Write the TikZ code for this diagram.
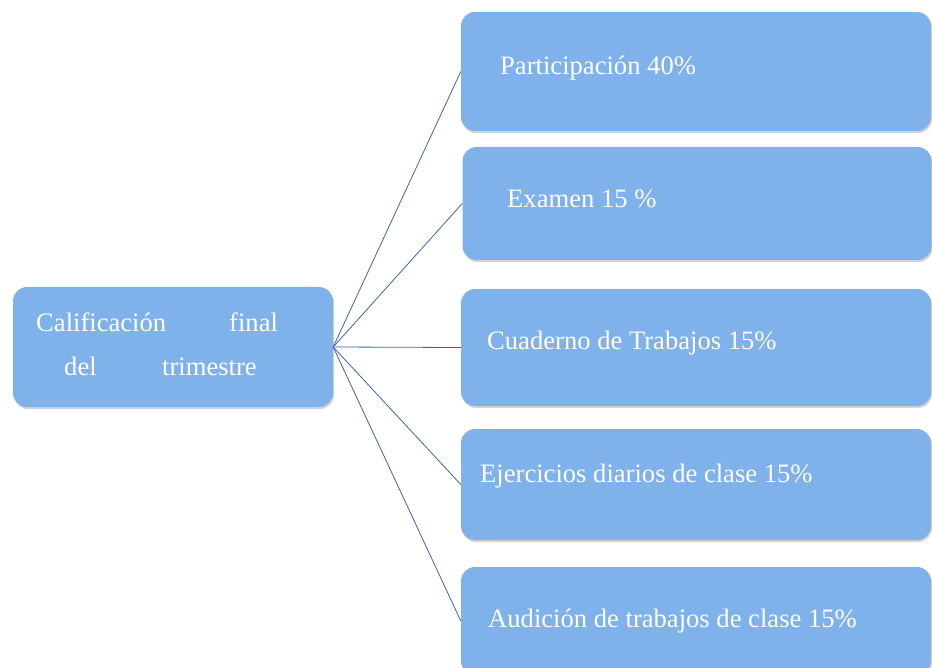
\documentclass[tikz,border=0pt]{standalone}
\usepackage{fontspec}
\setmainfont{Liberation Serif}
\usetikzlibrary{shadows}
\definecolor{boxblue}{HTML}{7FB1EA}
\definecolor{linkblue}{HTML}{3A64A8}
\tikzset{
	cajita/.style={fill=boxblue, draw=none, rounded corners=14pt, inner sep=0pt,
		drop shadow={shadow xshift=1pt, shadow yshift=-2pt, opacity=.35, fill=gray}},
	texto/.style={anchor=base west, text=white, inner sep=0pt, font=\fontsize{26.6}{32}\selectfont},
	enlace/.style={draw=linkblue, line width=.8pt}
}
\begin{document}
\begin{tikzpicture}[x=1pt, y=-1pt]
	\useasboundingbox (0,0) rectangle (932,668) ;
		\node (cal)[cajita, minimum width=320pt, minimum height=120pt] at (173,347) {} ; 
		\node (p1)[cajita, minimum width=470pt, minimum height=119pt] at (696,71.5) {} ; 
		\node (p2)[cajita, minimum width=469pt, minimum height=113pt] at (697,203.5) {} ; 
		\node (p3)[cajita, minimum width=470pt, minimum height=117pt] at (696,347.5) {} ; 
		\node (p4)[cajita, minimum width=470pt, minimum height=111pt] at (696,484.5) {} ; 
		\node (p5)[cajita, minimum width=470pt, minimum height=108pt] at (696,621) {} ; 
		\node (cal1)[texto] at (36,332) {Calificación} ; 
		\node (cal2)[texto] at (229,332) {final} ; 
		\node (cal3)[texto] at (64,375) {del} ; 
		\node (cal4)[texto] at (162,375) {trimestre} ; 
		\node (t1)[texto] at (500,75) {Participación 40\%} ; 
		\node (t2)[texto] at (507,208) {Examen 15 \%} ; 
		\node (t3)[texto] at (487,350) {Cuaderno de Trabajos 15\%} ; 
		\node (t4)[texto] at (480,482) {Ejercicios diarios de clase 15\%} ; 
		\node (t5)[texto] at (488,627) {Audición de trabajos de clase 15\%} ; 
	\draw[enlace] (cal.east) -- (p1.west) ;
	\draw[enlace] (cal.east) -- (p2.west) ;
	\draw[enlace] (cal.east) -- (p3.west) ;
	\draw[enlace] (cal.east) -- (p4.west) ;
	\draw[enlace] (cal.east) -- (p5.west) ;
\end{tikzpicture}
\end{document}
